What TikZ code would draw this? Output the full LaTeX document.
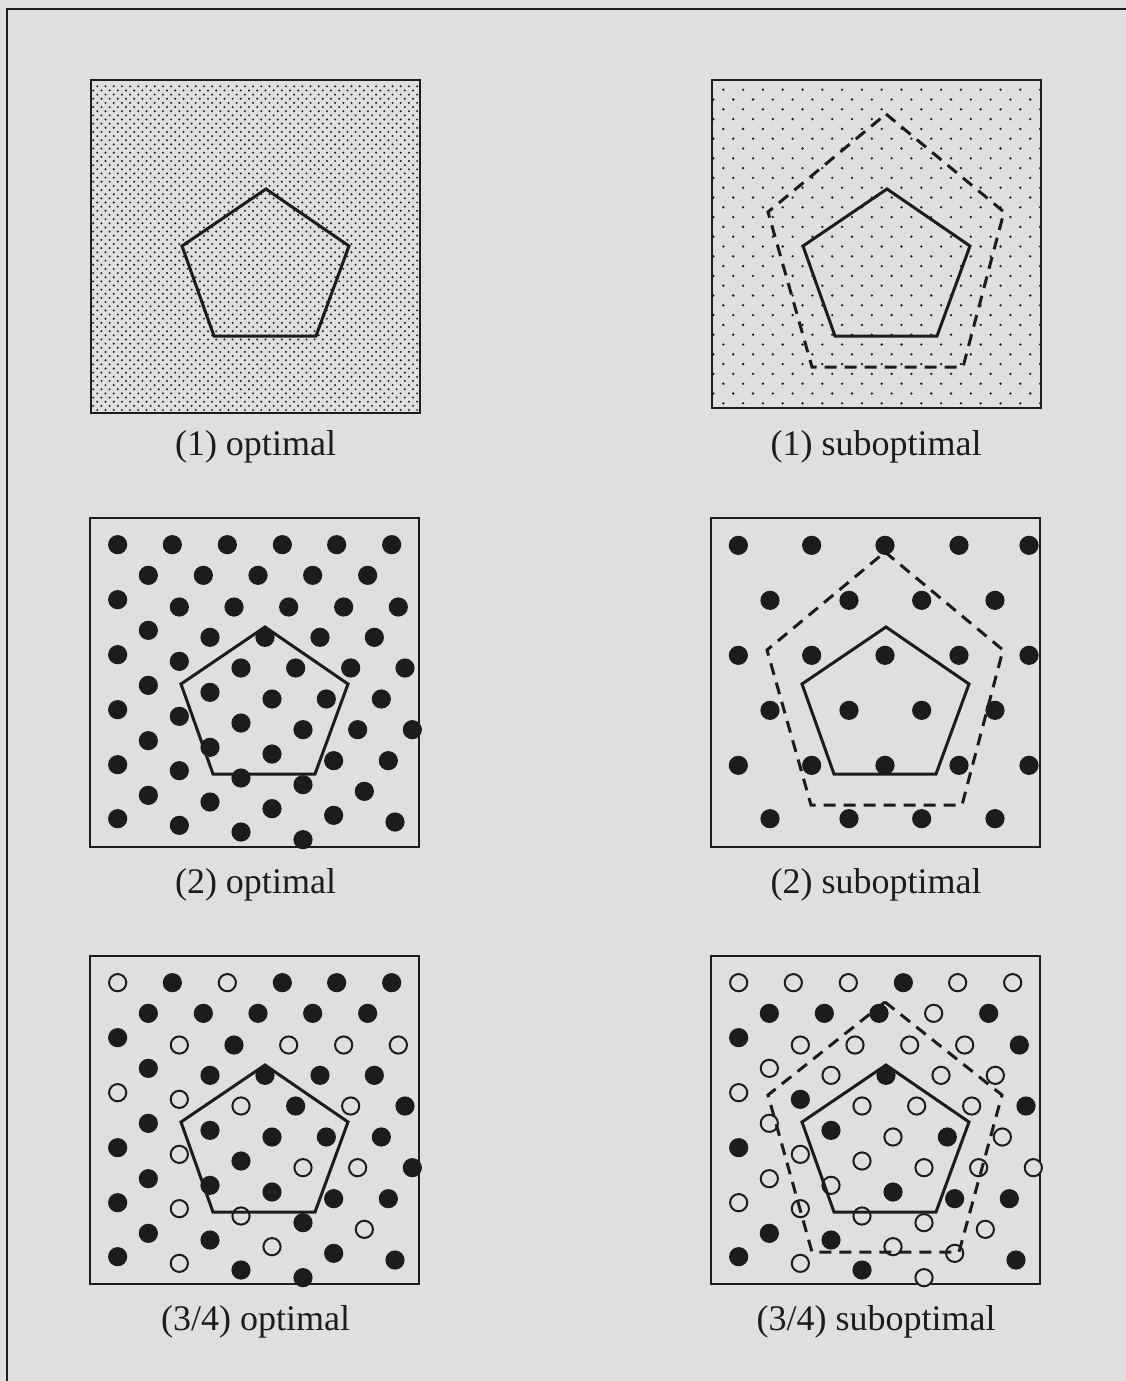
\documentclass[tikz,border=0pt]{standalone}
\usepackage{fontspec}
\setmainfont{Liberation Serif}
\definecolor{bg}{RGB}{222,223,224}
\definecolor{ink}{RGB}{28,28,28}
\begin{document}
\begin{tikzpicture}[x=1pt,y=-1pt,
  outerframe/.style={draw=ink,line width=2.6pt},
  box/.style={draw=ink,line width=2.4pt},
  pent/.style={draw=ink,line width=3pt,line join=miter},
  dpent/.style={draw=ink,line width=3pt,dash pattern=on 12pt off 8pt},
  lbl/.style={font=\fontsize{36}{40}\selectfont,anchor=base,inner sep=0pt,text=ink},
  fdot/.style={fill=ink},
  odot/.style={draw=ink,line width=2pt,fill=bg}]
\fill[bg] (0,0) rectangle (1126,1381);
\useasboundingbox (0,0) rectangle (1126,1381);
\draw[outerframe] (7,1381) -- (7,9) -- (1126,9);

\newcommand\solidpent{\draw[pent] (175,109) -- (258,166) -- (225,256) -- (123,256) -- (91,166) -- cycle;}

% ---------- (1) optimal ----------
\begin{scope}[shift={(91,80)}]
  \begin{scope}
    \clip (0,0) rectangle (329,333);
    \foreach \j in {0,...,78} {
      \pgfmathsetmacro\yy{6.3+4.15*\j}
      \pgfmathsetmacro\xo{6.3-4.1*mod(\j,2)}
      \foreach \i in {0,...,40} {
        \fill[ink] ({\xo+8.2*\i},\yy) circle[radius=1.1pt];
      }
    }
  \end{scope}
  \draw[box] (0,0) rectangle (329,333);
  \solidpent
\end{scope}

% ---------- (1) suboptimal ----------
\begin{scope}[shift={(712,80)}]
  \begin{scope}
    \clip (0,0) rectangle (329,328);
    \foreach \j in {0,...,32} {
      \pgfmathsetmacro\yy{9.7+9.8*\j}
      \pgfmathsetmacro\xo{11.3-9.9*mod(\j,2)}
      \foreach \i in {0,...,16} {
        \fill[ink] ({\xo+19.8*\i},\yy) circle[radius=1.3pt];
      }
    }
  \end{scope}
  \draw[box] (0,0) rectangle (329,328);
  \solidpent
  \draw[dpent] (174,34) -- (292,132) -- (251,287) -- (100,287) -- (56,132) -- cycle;
\end{scope}

% ---------- (2) optimal ----------
\begin{scope}[shift={(90,518)}]
  \draw[box] (0,0) rectangle (329,329);
  \foreach \a/\b in {98/100,262/100,427/100,592/100,755/100,920/100,
    190/192,355/192,519/192,683/192,848/192,
    98/265,283/287,447/287,611/287,776/287,940/287,
    190/357,375/378,540/378,705/378,868/378,
    98/430,283/450,468/470,632/470,797/470,960/470,
    190/522,375/543,561/563,724/563,889/563,
    98/595,283/615,468/635,654/655,818/655,982/655,
    190/688,375/708,561/728,746/748,910/748,
    98/760,283/778,468/800,654/820,838/840,
    190/852,375/872,561/892,746/912,930/932,
    98/922,283/942,468/962,654/985}
    \fill[fdot] ({(\a-15)/3},{(\b-20)/3}) circle[radius=9.6pt];
  \solidpent
\end{scope}

% ---------- (2) suboptimal ----------
\begin{scope}[shift={(711,518)}]
  \draw[box] (0,0) rectangle (329,329);
  \foreach \a/\b in {100/100,320/100,540/100,762/100,972/100,
    195/265,432/265,650/265,870/265,
    100/430,320/430,540/430,762/430,972/430,
    195/595,432/595,650/595,870/595,
    100/760,320/760,540/760,762/760,972/760,
    195/920,432/920,650/920,870/920}
    \fill[fdot] ({(\a-18)/3},{(\b-18)/3}) circle[radius=9.6pt];
  \solidpent
  \draw[dpent] (174,34) -- (292,132) -- (251,287) -- (100,287) -- (56,132) -- cycle;
\end{scope}

% ---------- (3/4) optimal ----------
\begin{scope}[shift={(90,956)}]
  \draw[box] (0,0) rectangle (329,328);
  \foreach \a/\b/\f in {98/100/0,262/100/1,427/100/0,592/100/1,755/100/1,920/100/1,
    190/192/1,355/192/1,519/192/1,683/192/1,848/192/1,
    98/265/1,283/287/0,447/287/1,611/287/0,776/287/0,940/287/0,
    190/357/1,375/378/1,540/378/1,705/378/1,868/378/1,
    98/430/0,283/450/0,468/470/0,632/470/1,797/470/0,960/470/1,
    190/522/1,375/543/1,561/563/1,724/563/1,889/563/1,
    98/595/1,283/615/0,468/635/1,654/655/0,818/655/0,982/655/1,
    190/688/1,375/708/1,561/728/1,746/748/1,910/748/1,
    98/760/1,283/778/0,468/800/0,654/820/1,838/840/0,
    190/852/1,375/872/1,561/892/0,746/912/1,930/932/1,
    98/922/1,283/942/0,468/962/1,654/985/1}
    {\ifnum\f=1
      \fill[fdot] ({(\a-15)/3},{(\b-20)/3}) circle[radius=9.6pt];
     \else
      \draw[odot] ({(\a-15)/3},{(\b-20)/3}) circle[radius=8.6pt];
     \fi}
  \solidpent
\end{scope}

% ---------- (3/4) suboptimal ----------
\begin{scope}[shift={(711,956)}]
  \draw[box] (0,0) rectangle (329,328);
  \foreach \a/\b/\f in {98/100/0,262/100/0,427/100/0,592/100/1,755/100/0,920/100/0,
    190/192/1,355/192/1,519/192/1,683/192/0,848/192/1,
    98/265/1,283/287/0,447/287/0,611/287/0,776/287/0,940/287/1,
    190/357/0,375/378/0,540/378/1,705/378/0,868/378/0,
    98/430/0,283/450/1,468/470/0,632/470/0,797/470/0,960/470/1,
    190/522/0,375/543/1,561/563/0,724/563/1,889/563/0,
    98/595/1,283/615/0,468/635/0,654/655/0,818/655/0,982/655/0,
    190/688/0,375/708/0,561/728/1,746/748/1,910/748/1,
    98/760/0,283/778/0,468/800/0,654/820/0,838/840/0,
    190/852/1,375/872/1,561/892/0,746/912/0,930/932/1,
    98/922/1,283/942/0,468/962/1,654/985/0}
    {\ifnum\f=1
      \fill[fdot] ({(\a-15)/3},{(\b-20)/3}) circle[radius=9.6pt];
     \else
      \draw[odot] ({(\a-15)/3},{(\b-20)/3}) circle[radius=8.6pt];
     \fi}
  \solidpent
  \draw[dpent] (174,46) -- (291,139) -- (248,296) -- (101,296) -- (57,139) -- cycle;
\end{scope}

% ---------- labels ----------
\node[lbl] (l1o) at (255.5,455) {(1) optimal};
\node[lbl] (l1s) at (876,455) {(1) suboptimal};
\node[lbl] (l2o) at (255.5,893) {(2) optimal};
\node[lbl] (l2s) at (876,893) {(2) suboptimal};
\node[lbl] (l3o) at (255.5,1330) {(3/4) optimal};
\node[lbl] (l3s) at (876,1330) {(3/4) suboptimal};
\end{tikzpicture}
\end{document}
